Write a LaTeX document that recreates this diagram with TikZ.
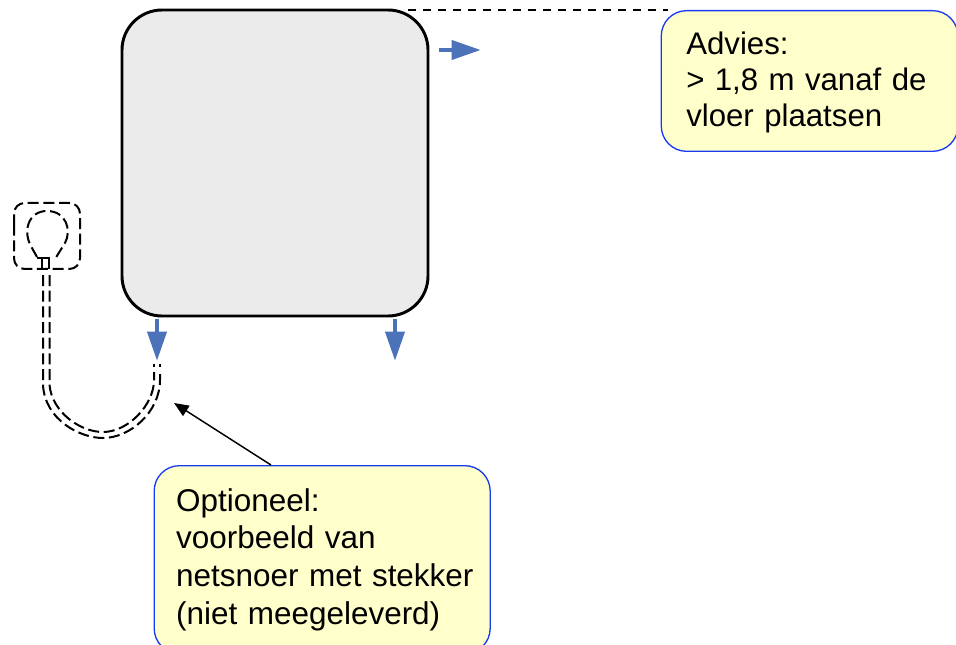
\documentclass[tikz,border=0pt]{standalone}
\usepackage{fontspec}
\setmainfont{Liberation Sans}
\usetikzlibrary{arrows.meta,calc}
\definecolor{calloutfill}{RGB}{255,255,204}
\definecolor{calloutline}{RGB}{26,60,240}
\definecolor{flowblue}{RGB}{76,114,186}
\definecolor{boxfill}{RGB}{235,235,235}
\tikzset{
  px/.style={x=0.75pt,y=-0.75pt},
  mainbox/.style={draw=black,line width=2.2pt,fill=boxfill,rounded corners=30pt,minimum width=229.5pt,minimum height=229.5pt,inner sep=0pt},
  callout/.style={draw=calloutline,line width=1pt,fill=calloutfill,rounded corners=19pt,inner ysep=0pt,align=left},
  flow/.style={draw=flowblue,line width=3.6pt,-{Triangle[length=22pt,width=14pt,fill=flowblue]},shorten >=0pt},
  plugline/.style={black,line width=1.5pt,dash pattern=on 8.25pt off 3.5pt},
  leader/.style={black,line width=0.9pt,dash pattern=on 6pt off 5.25pt},
  pointer/.style={black,line width=1.1pt,-{Triangle[length=11pt,width=9pt]}}
}
\begin{document}
\begin{tikzpicture}[px]
\useasboundingbox (0,0) rectangle (956,645);
\clip (0,0) rectangle (956,645);
\node[mainbox] (device) at (275,163) {};
\node[callout,anchor=north west,inner xsep=18.5pt,minimum width=222.5pt,minimum height=105.5pt,text width=185pt,font=\fontsize{23.4}{27}\selectfont] (advies) at (660.6,10) {\rule{0pt}{19.5pt}Advies:\\> 1,8 m vanaf de\\vloer plaatsen};
\node[callout,anchor=north west,inner xsep=16.5pt,minimum width=252pt,minimum height=141pt,text width=219pt,font=\fontsize{23.6}{28.3}\selectfont] (optie) at (153.5,465) {Optioneel:\\voorbeeld van\\\mbox{netsnoer met stekker}\\(niet meegeleverd)};

\coordinate (leaderstart) at (408,10);
\coordinate (leaderend) at (668,10);
\draw[leader] (leaderstart) -- (leaderend);

\coordinate (r1) at (439,50); \coordinate (r2) at (481,50);
\coordinate (l1) at (157,319); \coordinate (l2) at (157,361);
\coordinate (m1) at (395,319); \coordinate (m2) at (395,361);
\draw[flow] (r1) -- (r2);
\draw[flow] (l1) -- (l2);
\draw[flow] (m1) -- (m2);

\coordinate (ptrstart) at (271,465);
\coordinate (ptrend) at (174,403);
\draw[pointer] (ptrstart) -- (ptrend);

% socket and plug
\draw[plugline,rounded corners=8pt] (14,236) -- (14,203) -- (80,203) -- (80,269) -- (14,269) -- cycle;
\draw[plugline] (37,257) -- (32,248) .. controls (22,232) and (28,211) .. (47,211) .. controls (66,211) and (72,230) .. (65,243) -- (55,259);
\draw[black,line width=1.5pt] (37,258) -- (49,258) -- (49,269);
\draw[black,line width=1.5pt] (42,258) -- (42,269);
% cord
\draw[plugline] (43,275) -- (43,385) .. controls (45,420) and (80,438) .. (103,438) .. controls (130,438) and (160,412) .. (160,380) -- (160,372);
\draw[plugline] (49.5,275) -- (49.5,385) .. controls (52,412) and (80,432) .. (103,432) .. controls (128,432) and (154,405) .. (154,380) -- (154,372);
\draw[black,line width=1.5pt] (160,364) -- (160,366.5);
\draw[black,line width=1.5pt] (154,364) -- (154,366.5);
\end{tikzpicture}
\end{document}
